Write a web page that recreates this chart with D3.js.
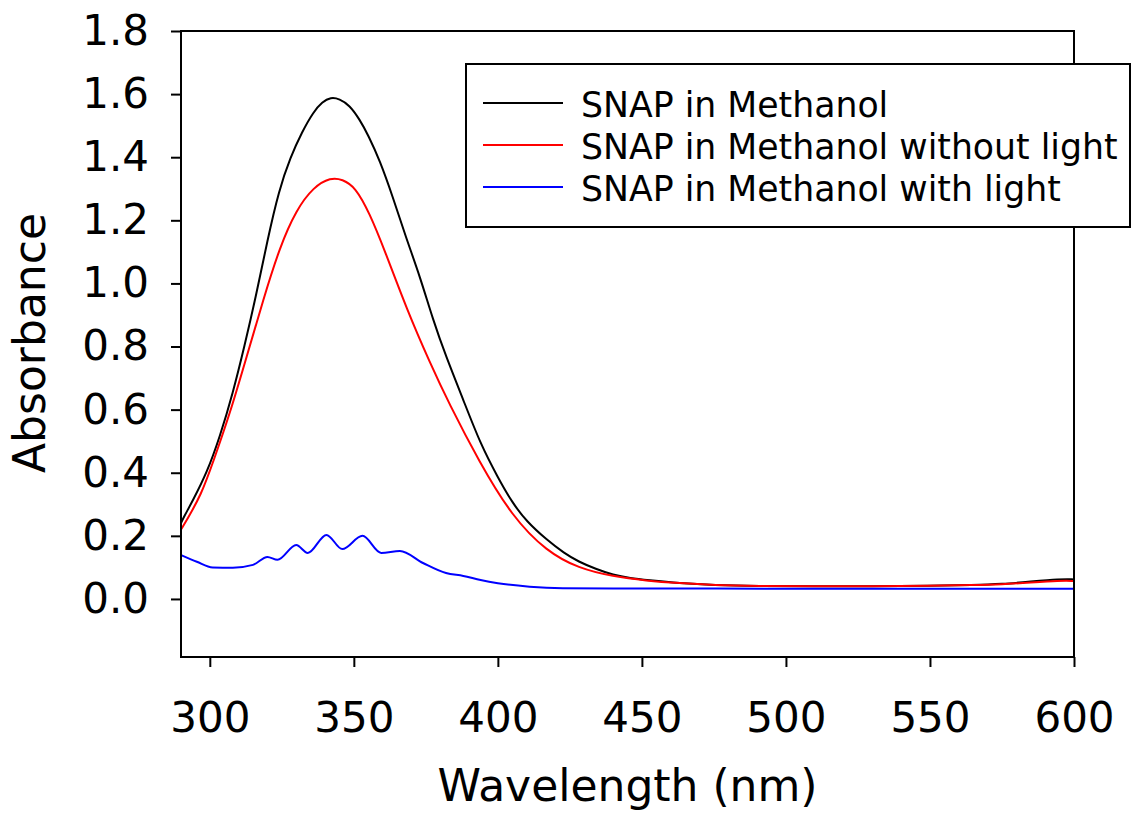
<!DOCTYPE html>
<html>
<head>
<meta charset="utf-8">
<script src="https://cdn.jsdelivr.net/npm/d3@7"></script>
<style>
  body { margin: 0; background: #fff; }
  svg { display: block; font-family: "DejaVu Sans", Verdana, sans-serif; }
</style>
</head>
<body>
<div id="chart"></div>
<script>
// series data (wavelength nm, absorbance)
const seriesNames = ["SNAP in Methanol", "SNAP in Methanol without light", "SNAP in Methanol with light"];
const seriesColors = ["#000000", "#ff0000", "#0000ff"];

const darkWl = [290, 291, 294, 299, 303.5, 308, 312, 316, 320, 324, 328, 332, 336, 339, 342, 345, 348.5, 352, 355, 359, 363.5, 368, 373, 377.5, 382, 388, 394, 400, 405, 410, 417, 423, 428, 434, 440, 446, 452, 463, 475, 490, 510, 530, 550, 565, 575, 585, 595, 600];
const darkAbs = [0.24, 0.26, 0.31, 0.40, 0.514, 0.652, 0.80, 0.958, 1.137, 1.296, 1.40, 1.48, 1.544, 1.575, 1.59, 1.585, 1.565, 1.52, 1.47, 1.39, 1.275, 1.148, 1.021, 0.884, 0.768, 0.631, 0.49, 0.385, 0.305, 0.245, 0.187, 0.145, 0.118, 0.095, 0.076, 0.066, 0.060, 0.050, 0.044, 0.041, 0.040, 0.040, 0.042, 0.044, 0.047, 0.055, 0.063, 0.062];

const noLightWl = [290, 292, 297, 301, 307, 312.8, 318.5, 324.3, 330, 336, 342, 346, 350.5, 355.5, 360.5, 368.5, 376.5, 383, 393.5, 405, 417, 428, 440, 451.5, 463, 475, 490, 510, 530, 550, 565, 575, 585, 595, 600];
const noLightAbs = [0.22, 0.25, 0.33, 0.43, 0.588, 0.768, 0.947, 1.116, 1.233, 1.306, 1.336, 1.33, 1.306, 1.222, 1.11, 0.915, 0.747, 0.62, 0.435, 0.26, 0.15, 0.097, 0.071, 0.058, 0.050, 0.044, 0.041, 0.040, 0.040, 0.042, 0.044, 0.046, 0.052, 0.058, 0.057];

const lightWl = [290, 295.5, 301, 308, 315, 320, 323.5, 330, 334, 340.5, 346, 353, 359.5, 366, 374, 382, 388, 394, 400, 411, 422.5, 440, 463, 500, 550, 600];
const lightAbs = [0.139, 0.118, 0.100, 0.099, 0.108, 0.133, 0.124, 0.171, 0.146, 0.203, 0.158, 0.200, 0.146, 0.152, 0.114, 0.082, 0.073, 0.060, 0.050, 0.039, 0.034, 0.033, 0.033, 0.032, 0.032, 0.032];

const xTicks = [300, 350, 400, 450, 500, 550, 600];
const yTicks = [0, 0.2, 0.4, 0.6, 0.8, 1.0, 1.2, 1.4, 1.6, 1.8];

//size
const width = 1146;
const height = 816;
const plot = { left: 181, right: 1074, top: 31, bottom: 657 };

const x = d3.scaleLinear().domain([290, 600]).range([plot.left, plot.right]);
const y = d3.scaleLinear().domain([-0.184, 1.8]).range([plot.bottom, plot.top]);

const series = [
  darkWl.map((w, i) => ({ w, a: darkAbs[i] })),
  noLightWl.map((w, i) => ({ w, a: noLightAbs[i] })),
  lightWl.map((w, i) => ({ w, a: lightAbs[i] }))
];

const svg = d3.select("#chart")
  .append("svg")
  .attr("width", width)
  .attr("height", height);

// curves: smooth spectra get a basis spline, the noisy one keeps its bumps
const smoothLine = d3.line()
  .x((d) => x(d.w))
  .y((d) => y(d.a))
  .curve(d3.curveBasis);
const bumpyLine = d3.line()
  .x((d) => x(d.w))
  .y((d) => y(d.a))
  .curve(d3.curveMonotoneX);

svg.append("g")
  .selectAll("path")
  .data(series)
  .join("path")
  .attr("fill", "none")
  .attr("stroke", (d, i) => seriesColors[i])
  .attr("stroke-width", 2)
  .attr("d", (d, i) => (i < 2 ? smoothLine(d) : bumpyLine(d)));

// frame
svg.append("rect")
  .attr("x", plot.left)
  .attr("y", plot.top)
  .attr("width", plot.right - plot.left)
  .attr("height", plot.bottom - plot.top)
  .attr("fill", "none")
  .attr("stroke", "#000")
  .attr("stroke-width", 2);

// axes
svg.append("g")
  .attr("transform", `translate(${plot.left},0)`)
  .call(d3.axisLeft(y).tickValues(yTicks).tickFormat(d3.format(".1f")).tickSize(10).tickPadding(22))
  .call((g) => {
    g.select(".domain").remove();
    g.selectAll("line").attr("stroke-width", 2);
    g.selectAll("text").attr("font-size", 42).attr("fill", "#000")
      .attr("font-family", "DejaVu Sans, Verdana, sans-serif");
  });

svg.append("g")
  .attr("transform", `translate(0,${plot.bottom})`)
  .call(d3.axisBottom(x).tickValues(xTicks).tickFormat(d3.format("d")).tickSize(10).tickPadding(35))
  .call((g) => {
    g.select(".domain").remove();
    g.selectAll("line").attr("stroke-width", 2);
    g.selectAll("text").attr("font-size", 42).attr("fill", "#000")
      .attr("font-family", "DejaVu Sans, Verdana, sans-serif");
  });

// axis titles
svg.append("text")
  .attr("x", (plot.left + plot.right) / 2)
  .attr("y", 801)
  .attr("text-anchor", "middle")
  .attr("font-size", 44)
  .text("Wavelength (nm)");

svg.append("text")
  .attr("transform", "translate(45,343) rotate(-90)")
  .attr("text-anchor", "middle")
  .attr("font-size", 44)
  .text("Absorbance");

// legend
const legend = svg.append("g").attr("transform", "translate(466,64)");
legend.append("rect")
  .attr("width", 664)
  .attr("height", 163)
  .attr("fill", "#fff")
  .attr("stroke", "#000")
  .attr("stroke-width", 2);

const item = legend.selectAll("g.item")
  .data(seriesNames)
  .join("g")
  .attr("class", "item")
  .attr("transform", (d, i) => `translate(0,${39 + i * 42})`);

item.append("line")
  .attr("x1", 17)
  .attr("x2", 97)
  .attr("stroke", (d, i) => seriesColors[i])
  .attr("stroke-width", 2);

item.append("text")
  .attr("x", 115)
  .attr("y", 14)
  .attr("font-size", 34.7)
  .text((d) => d);
</script>
</body>
</html>
